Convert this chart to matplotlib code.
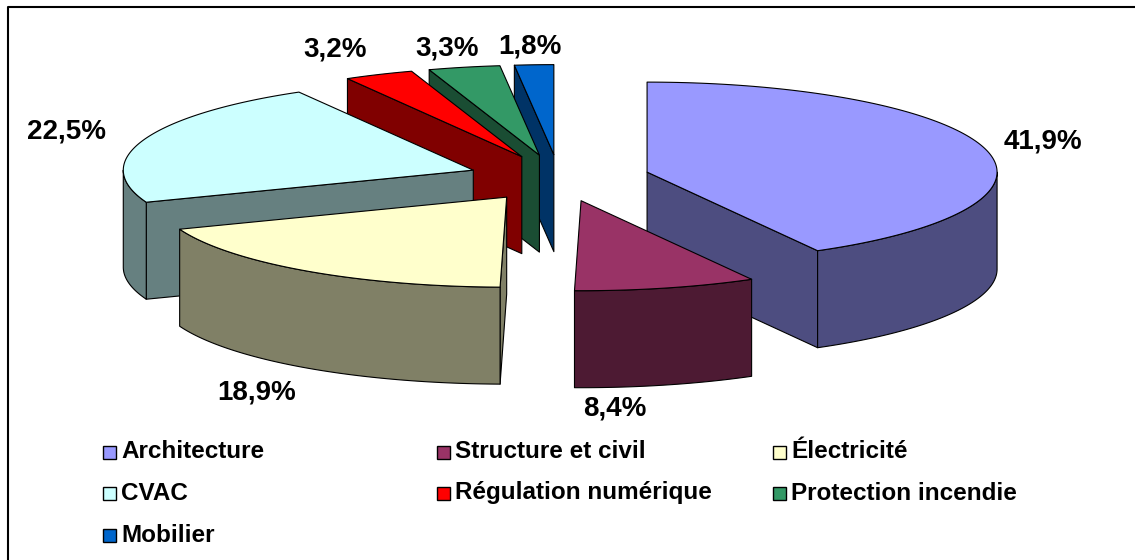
#!/usr/bin/env python3
"""Exploded 3D pie (Excel style) of the cost split by discipline."""

import numpy as np
import matplotlib
matplotlib.use("Agg")
import matplotlib.pyplot as plt
from matplotlib.patches import Polygon, Rectangle

# data (percent of total), clockwise from 12 o'clock
categories = ["Architecture", "Structure et civil", "Électricité", "CVAC",
              "Régulation numérique", "Protection incendie", "Mobilier"]
shares = [41.9, 8.4, 18.9, 22.5, 3.2, 3.3, 1.8]
top_colors = ["#9999FF", "#993366", "#FFFFCC", "#CCFFFF",
              "#FF0000", "#339966", "#0066CC"]

# geometry in pixel units (axes mapped 1:1 on the 1135x560 canvas)
CX, CY = 559, 178          # pie centre (top face)
RX, RY = 350, 90           # ellipse radii of the tilted disc
DEPTH = 97                 # thickness of the disc
EXPLODE = 0.26             # radial offset of each slice, fraction of radius
LABEL_F = (1.22, 1.27)     # label distance factors (x, y)
# small manual nudges of the labels, like Excel's own placement
label_dx = [-17, -70, -5, -5, -12, 0, 0]
label_dy = [-2, 0, 5, 0, -3, 5, 6]

plt.rcParams["font.family"] = ["Liberation Sans", "DejaVu Sans"]

fig = plt.figure(figsize=(11.35, 5.6), dpi=100)
ax = fig.add_axes([0, 0, 1, 1])
ax.set_xlim(0, 1135)
ax.set_ylim(560, 0)
ax.axis("off")


def darker(hex_color, f=0.5):
    rgb = np.array(matplotlib.colors.to_rgb(hex_color))
    return tuple(rgb * f)


def arc(cx, cy, a0, a1, n=120, dy=0.0):
    t = np.radians(np.linspace(a0, a1, n))
    return np.column_stack([cx + RX * np.cos(t), cy - RY * np.sin(t) + dy])


total = float(sum(shares))
slices = []
start = 90.0
for name, val, col, ddx, ddy in zip(categories, shares, top_colors,
                                    label_dx, label_dy):
    a_hi = start
    a_lo = start - val / total * 360.0
    start = a_lo
    mid = np.radians((a_hi + a_lo) / 2)
    sx = CX + EXPLODE * RX * np.cos(mid)
    sy = CY - EXPLODE * RY * np.sin(mid)
    slices.append(dict(name=name, val=val, col=col, lo=a_lo, hi=a_hi,
                       mid=mid, sx=sx, sy=sy, ddx=ddx, ddy=ddy))

# painter's order: back slices first
order = sorted(slices, key=lambda s: -np.sin(s["mid"]))
kw = dict(edgecolor="black", linewidth=0.8, joinstyle="round")
z = 1
for s in order:
    sx, sy = s["sx"], s["sy"]
    side = darker(s["col"])
    # radial walls facing the viewer
    for a, visible in ((s["hi"], np.cos(np.radians(s["hi"])) < -1e-6),
                       (s["lo"], np.cos(np.radians(s["lo"])) > 1e-6)):
        if not visible:
            continue
        t = np.radians(a)
        ox, oy = sx + RX * np.cos(t), sy - RY * np.sin(t)
        pts = [(sx, sy), (ox, oy), (ox, oy + DEPTH), (sx, sy + DEPTH)]
        ax.add_patch(Polygon(pts, closed=True, facecolor=side, zorder=z, **kw))
        z += 1
    # curved outer wall, front half only
    for k in (-1, 0, 1):
        lo = max(s["lo"], 360 * k - 180)
        hi = min(s["hi"], 360 * k)
        if hi > lo:
            top = arc(sx, sy, lo, hi)
            bot = arc(sx, sy, hi, lo, dy=DEPTH)
            ax.add_patch(Polygon(np.vstack([top, bot]), closed=True,
                                 facecolor=side, zorder=z, **kw))
            z += 1
    # top face
    pts = np.vstack([[sx, sy], arc(sx, sy, s["lo"], s["hi"])])
    ax.add_patch(Polygon(pts, closed=True, facecolor=s["col"], zorder=z, **kw))
    z += 1

# percentage labels
for s in slices:
    c, sn = np.cos(s["mid"]), np.sin(s["mid"])
    lx = s["sx"] + LABEL_F[0] * RX * c + s["ddx"]
    ly = s["sy"] - LABEL_F[1] * RY * sn + (DEPTH if sn < 0 else 0) + s["ddy"]
    txt = f"{s['val']:.1f}%".replace(".", ",")
    ax.text(lx, ly, txt, ha="center", va="center", fontsize=20,
            fontweight="bold", zorder=z + 1)

# legend, three columns, row-major
col_x = [103, 437, 773]
row_y = [452, 493, 535]
for i, (name, col) in enumerate(zip(categories, top_colors)):
    x = col_x[i % 3]
    y = row_y[i // 3]
    ax.add_patch(Rectangle((x, y - 6.5), 13, 13, facecolor=col,
                           edgecolor="black", linewidth=1.0, zorder=z))
    ax.text(x + 18, y, name, ha="left", va="center", fontsize=17.5,
            fontweight="bold", zorder=z)

# chart area border (only top/left visible on the canvas)
ax.plot([8, 8, 1135], [560, 7, 7], color="black", linewidth=1.5,
        solid_capstyle="butt", zorder=z)

fig.savefig("out.png", dpi=100)
